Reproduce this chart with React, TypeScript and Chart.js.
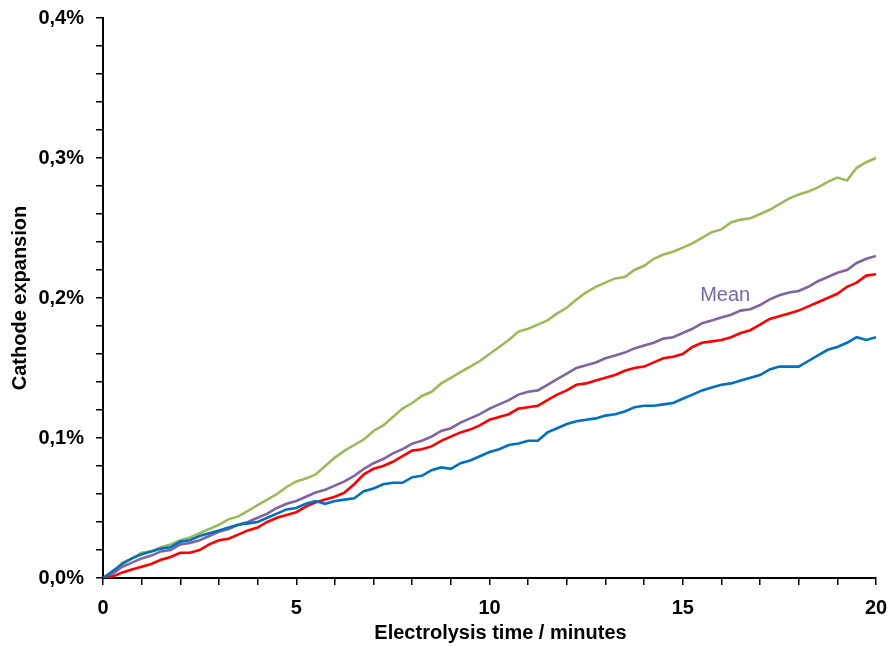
import React, { useEffect, useRef } from "react";
import { Chart, registerables } from "chart.js";

Chart.register(...registerables);

const TIMES = [
  0, 0.25, 0.5, 0.75, 1, 1.25, 1.5, 1.75, 2, 2.25, 2.5, 2.75, 3, 3.25, 3.5, 3.75,
  4, 4.25, 4.5, 4.75, 5, 5.25, 5.5, 5.75, 6, 6.25, 6.5, 6.75, 7, 7.25, 7.5, 7.75,
  8, 8.25, 8.5, 8.75, 9, 9.25, 9.5, 9.75, 10, 10.25, 10.5, 10.75, 11, 11.25, 11.5, 11.75,
  12, 12.25, 12.5, 12.75, 13, 13.25, 13.5, 13.75, 14, 14.25, 14.5, 14.75, 15, 15.25, 15.5, 15.75,
  16, 16.25, 16.5, 16.75, 17, 17.25, 17.5, 17.75, 18, 18.25, 18.5, 18.75, 19, 19.25, 19.5, 19.75, 20,
];

const GREEN_SERIES = [
  0.000, 0.004, 0.011, 0.014, 0.018, 0.019, 0.022, 0.024, 0.027, 0.029, 0.032, 0.035, 0.038, 0.042, 0.044, 0.048,
  0.052, 0.056, 0.060, 0.065, 0.069, 0.071, 0.074, 0.080, 0.086, 0.091, 0.095, 0.099, 0.105, 0.109, 0.115, 0.121,
  0.125, 0.130, 0.133, 0.139, 0.143, 0.147, 0.151, 0.155, 0.160, 0.165, 0.170, 0.176, 0.178, 0.181, 0.184, 0.189,
  0.193, 0.199, 0.204, 0.208, 0.211, 0.214, 0.215, 0.220, 0.223, 0.228, 0.231, 0.233, 0.236, 0.239, 0.243, 0.247,
  0.249, 0.254, 0.256, 0.257, 0.260, 0.263, 0.267, 0.271, 0.274, 0.276, 0.279, 0.283, 0.286, 0.284, 0.293, 0.297, 0.300,
];

const BLUE_SERIES = [
  0.000, 0.005, 0.010, 0.014, 0.017, 0.019, 0.021, 0.022, 0.026, 0.027, 0.030, 0.032, 0.034, 0.036, 0.038, 0.039,
  0.040, 0.043, 0.046, 0.049, 0.050, 0.053, 0.055, 0.053, 0.055, 0.056, 0.057, 0.062, 0.064, 0.067, 0.068, 0.068,
  0.072, 0.073, 0.077, 0.079, 0.078, 0.082, 0.084, 0.087, 0.090, 0.092, 0.095, 0.096, 0.098, 0.098, 0.104, 0.107,
  0.110, 0.112, 0.113, 0.114, 0.116, 0.117, 0.119, 0.122, 0.123, 0.123, 0.124, 0.125, 0.128, 0.131, 0.134, 0.136,
  0.138, 0.139, 0.141, 0.143, 0.145, 0.149, 0.151, 0.151, 0.151, 0.155, 0.159, 0.163, 0.165, 0.168, 0.172, 0.170, 0.172,
];

const RED_SERIES = [
  0.000, 0.001, 0.004, 0.006, 0.008, 0.010, 0.013, 0.015, 0.018, 0.018, 0.020, 0.024, 0.027, 0.028, 0.031, 0.034,
  0.036, 0.040, 0.043, 0.045, 0.047, 0.051, 0.054, 0.056, 0.058, 0.061, 0.067, 0.074, 0.078, 0.080, 0.083, 0.087,
  0.091, 0.092, 0.094, 0.098, 0.101, 0.104, 0.106, 0.109, 0.113, 0.115, 0.117, 0.121, 0.122, 0.123, 0.127, 0.131,
  0.134, 0.138, 0.139, 0.141, 0.143, 0.145, 0.148, 0.150, 0.151, 0.154, 0.157, 0.158, 0.160, 0.165, 0.168, 0.169,
  0.170, 0.172, 0.175, 0.177, 0.181, 0.185, 0.187, 0.189, 0.191, 0.194, 0.197, 0.200, 0.203, 0.208, 0.211, 0.216, 0.217,
];

const MEAN_SERIES = [
  0.000, 0.003, 0.008, 0.011, 0.014, 0.016, 0.019, 0.020, 0.024, 0.025, 0.027, 0.030, 0.033, 0.035, 0.038, 0.040,
  0.043, 0.046, 0.050, 0.053, 0.055, 0.058, 0.061, 0.063, 0.066, 0.069, 0.073, 0.078, 0.082, 0.085, 0.089, 0.092,
  0.096, 0.098, 0.101, 0.105, 0.107, 0.111, 0.114, 0.117, 0.121, 0.124, 0.127, 0.131, 0.133, 0.134, 0.138, 0.142,
  0.146, 0.150, 0.152, 0.154, 0.157, 0.159, 0.161, 0.164, 0.166, 0.168, 0.171, 0.172, 0.175, 0.178, 0.182, 0.184,
  0.186, 0.188, 0.191, 0.192, 0.195, 0.199, 0.202, 0.204, 0.205, 0.208, 0.212, 0.215, 0.218, 0.220, 0.225, 0.228, 0.230,
];

const GREEN = "#9BBB59";
const BLUE = "#0070C0";
const RED = "#FF0000";
const PURPLE = "#8064A2";

const X_TITLE = "Electrolysis time / minutes";
const Y_TITLE = "Cathode expansion";
const MEAN_LABEL = "Mean";
const MEAN_LABEL_X = 15.45;
const MEAN_LABEL_Y = 0.2015;
const X_TITLE_SHIFT = 11;
const X_TITLE_FROM_BOTTOM = 13;

const FONT = "'Liberation Sans', Arial, sans-serif";

const toPoints = (vals: number[]) => vals.map((v, i) => ({ x: TIMES[i], y: v }));

const textPlugin = {
  id: "extraText",
  afterDraw(chart: any) {
    const { ctx, scales, chartArea, height } = chart;
    const px = scales.x.getPixelForValue(MEAN_LABEL_X);
    const py = scales.y.getPixelForValue(MEAN_LABEL_Y);
    ctx.save();
    ctx.font = `20px ${FONT}`;
    ctx.fillStyle = PURPLE;
    ctx.textAlign = "left";
    ctx.textBaseline = "middle";
    ctx.fillText(MEAN_LABEL, px, py);

    ctx.font = `bold 20px ${FONT}`;
    ctx.fillStyle = "#000";
    ctx.textAlign = "center";
    ctx.textBaseline = "middle";
    ctx.fillText(X_TITLE, (chartArea.left + chartArea.right) / 2 + X_TITLE_SHIFT, height - X_TITLE_FROM_BOTTOM);
    ctx.restore();
  },
};

export default function App() {
  const canvasRef = useRef<HTMLCanvasElement | null>(null);

  useEffect(() => {
    document.body.style.margin = "0";
    const canvas = canvasRef.current;
    if (!canvas) return;
    const lineDs = (data: number[], color: string) => ({
      data: toPoints(data),
      borderColor: color,
      backgroundColor: color,
      borderWidth: 2.6,
      pointRadius: 0,
      tension: 0,
      fill: false,
    });
    const boldFont = { family: FONT, size: 20, weight: "bold" };
    const chart = new Chart(canvas, {
      type: "line",
      data: {
        datasets: [
          lineDs(BLUE_SERIES, BLUE),
          lineDs(RED_SERIES, RED),
          lineDs(MEAN_SERIES, PURPLE),
          lineDs(GREEN_SERIES, GREEN),
        ],
      },
      options: {
        animation: false,
        responsive: true,
        maintainAspectRatio: false,
        layout: { padding: { top: 18, right: 14, left: 0, bottom: 0 } },
        plugins: { legend: { display: false }, tooltip: { enabled: false } },
        scales: {
          x: {
            type: "linear",
            min: 0,
            max: 20,
            border: { color: "#000", width: 2 },
            grid: {
              display: true,
              drawOnChartArea: false,
              drawTicks: true,
              tickLength: 7,
              color: "#000",
              lineWidth: 1.5,
            },
            ticks: {
              stepSize: 1,
              autoSkip: false,
              maxTicksLimit: 100,
              maxRotation: 0,
              padding: 11,
              color: "#000",
              font: boldFont,
              callback: (v: any) => (Math.round(v) % 5 === 0 ? String(Math.round(v)) : ""),
            },
            title: { display: false },
            afterFit: (s: any) => {
              s.height = 68;
              s.paddingLeft = 0;
              s.paddingRight = 0;
            },
          },
          y: {
            type: "linear",
            min: 0,
            max: 0.4,
            border: { color: "#000", width: 2 },
            grid: {
              display: true,
              drawOnChartArea: false,
              drawTicks: true,
              tickLength: 7,
              color: "#000",
              lineWidth: 1.5,
            },
            ticks: {
              stepSize: 0.02,
              autoSkip: false,
              maxTicksLimit: 100,
              padding: 12,
              color: "#000",
              font: boldFont,
              callback: (v: any) => {
                const r = v / 0.1;
                if (Math.abs(r - Math.round(r)) < 1e-6) {
                  return (Math.round(r) / 10).toFixed(1).replace(".", ",") + "%";
                }
                return "";
              },
            },
            title: {
              display: true,
              text: Y_TITLE,
              color: "#000",
              font: boldFont,
              padding: { top: 8, bottom: 8 },
            },
            afterFit: (s: any) => {
              s.width = 103;
              s.paddingTop = 0;
              s.paddingBottom = 0;
            },
          },
        },
      },
      plugins: [textPlugin],
    } as any);
    return () => chart.destroy();
  }, []);

  return (
    <div style={{ width: 890, height: 646, position: "relative" }}>
      <canvas ref={canvasRef} />
    </div>
  );
}
